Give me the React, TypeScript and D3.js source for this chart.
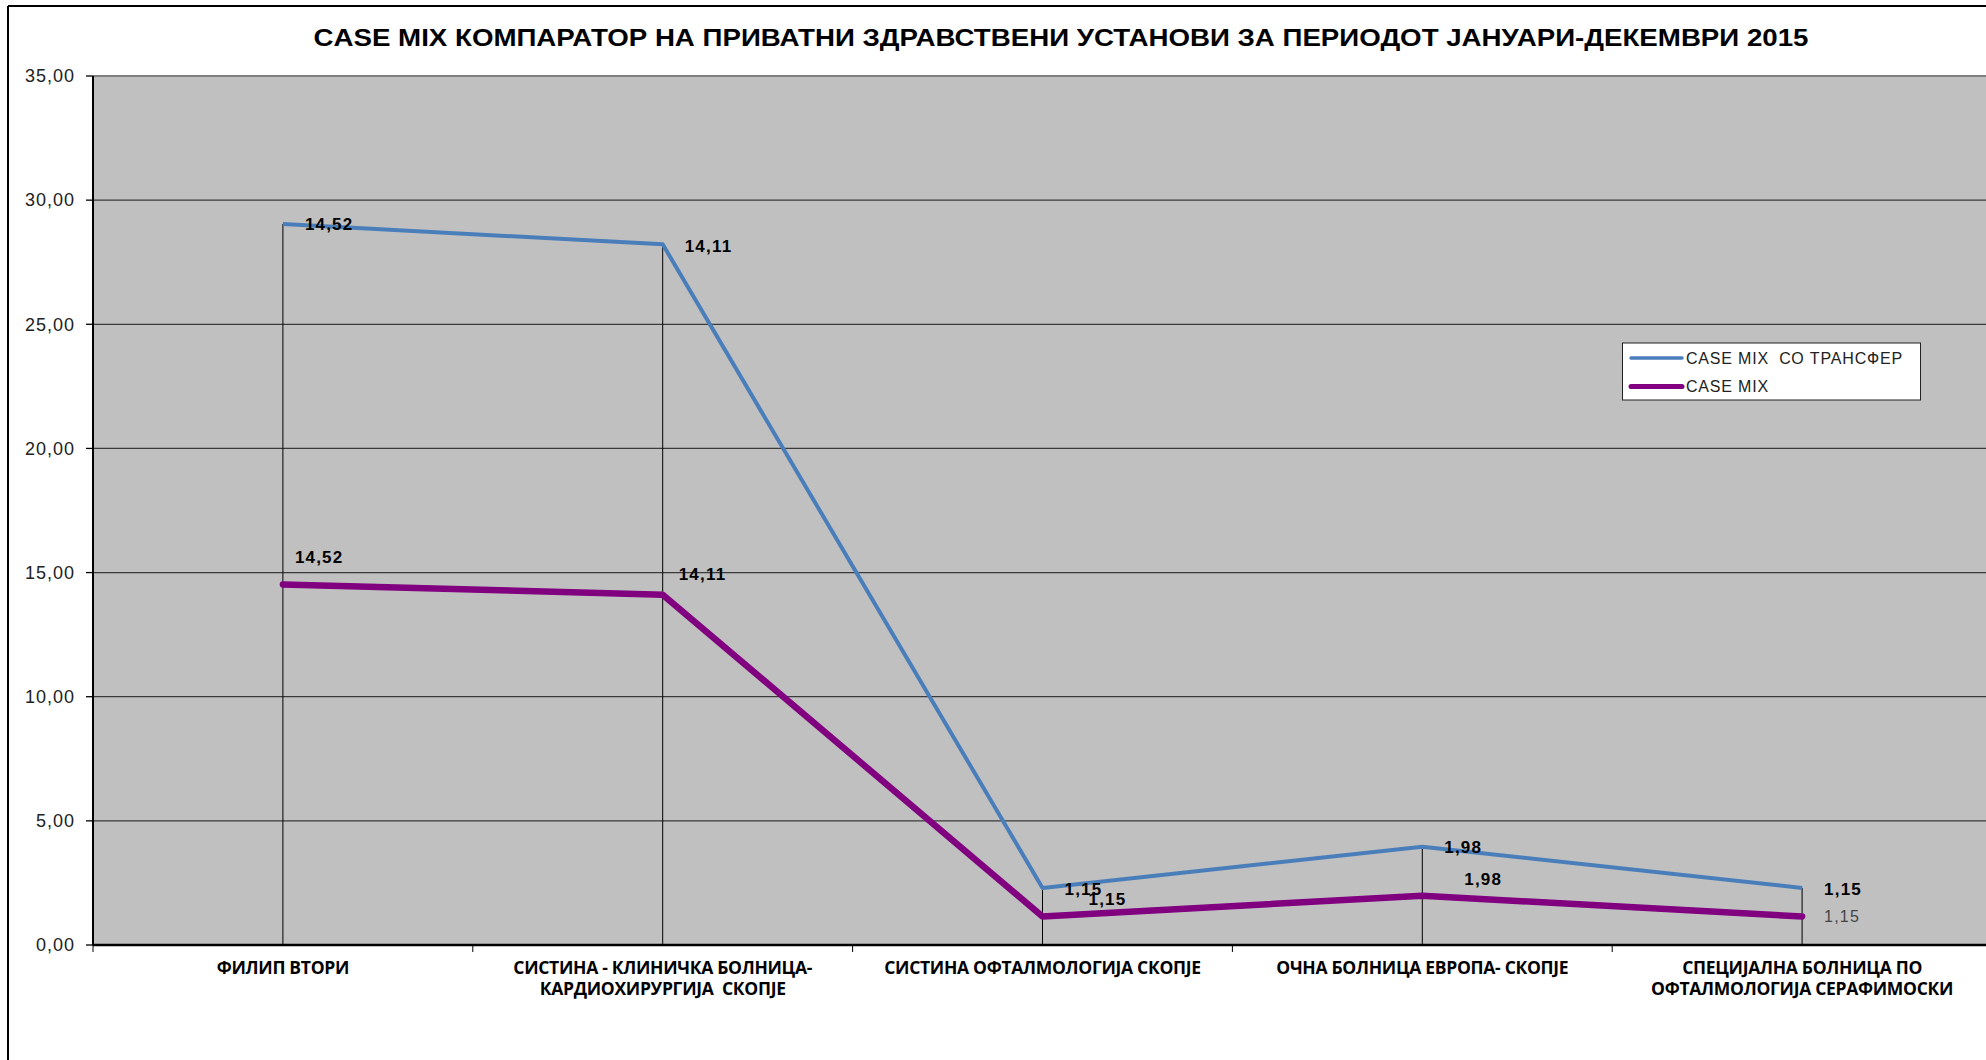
import * as d3 from 'd3';

const TITLE = 'CASE MIX КОМПАРАТОР НА ПРИВАТНИ ЗДРАВСТВЕНИ УСТАНОВИ ЗА ПЕРИОДОТ ЈАНУАРИ-ДЕКЕМВРИ 2015';

const categories = [
  ['ФИЛИП ВТОРИ'],
  ['СИСТИНА - КЛИНИЧКА БОЛНИЦА-', 'КАРДИОХИРУРГИЈА  СКОПЈЕ'],
  ['СИСТИНА ОФТАЛМОЛОГИЈА СКОПЈЕ'],
  ['ОЧНА БОЛНИЦА ЕВРОПА- СКОПЈЕ'],
  ['СПЕЦИЈАЛНА БОЛНИЦА ПО', 'ОФТАЛМОЛОГИЈА СЕРАФИМОСКИ'],
];

const seriesNames = ['CASE MIX  СО ТРАНСФЕР', 'CASE MIX'];

// plotted values (as drawn on the chart)
const transferValues = [29.04, 28.22, 2.3, 3.96, 2.3];
const caseMixValues = [14.52, 14.11, 1.15, 1.98, 1.15];

// data label texts shown next to points
const transferLabels = ['14,52', '14,11', '1,15', '1,98', '1,15'];
const caseMixLabels = ['14,52', '14,11', '1,15', '1,98', '1,15'];

const yTicks = [0, 5, 10, 15, 20, 25, 30, 35];

const BLUE = '#4A7EBB';
const PURPLE = '#800080';

// hand-placed label offsets (as in the original workbook)
const transferOffsets = [[22, 0], [22, 2], [22, 1], [22, 0], [22, 1]];
const caseMixOffsets = [[12, -27], [16, -21], [46, -17], [42, -17], [22, 0]];

export default function App() {
  const W = 1986;
  const H = 1060;
  const left = 93;
  const right = 1992;
  const top = 76;
  const bottom = 945;

  const x = d3.scaleBand<number>().domain(categories.map((_, i) => i)).range([left, right]);
  const cx = (i: number) => (x(i) ?? 0) + x.bandwidth() / 2;
  const y = d3.scaleLinear().domain([0, 35]).range([bottom, top]);
  const fmt = (v: number) => v.toFixed(2).replace('.', ',');

  const line = d3.line<number>().x((_, i) => cx(i)).y((d) => y(d));

  return (
    <svg width={W} height={H} style={{ position: 'absolute', left: 0, top: 0, background: '#fff' }}>
      {/* outer frame */}
      <line x1={8} y1={6} x2={W} y2={6} stroke="#000" strokeWidth={2} />
      <line x1={8} y1={6} x2={8} y2={H} stroke="#000" strokeWidth={2} />

      <text x={1061} y={46} textAnchor="middle" fontFamily="'Liberation Sans', Arial, sans-serif"
        fontWeight="bold" fontSize={24} fill="#000" textLength={1495} lengthAdjust="spacingAndGlyphs">
        {TITLE}
      </text>

      {/* plot area */}
      <rect x={left} y={top} width={right - left} height={bottom - top} fill="#C0C0C0" />
      {yTicks.filter((t) => t > 0 && t < 35).map((t) => (
        <line key={t} x1={left} x2={right} y1={y(t)} y2={y(t)} stroke="#3a3a3a" strokeWidth={1.3} />
      ))}
      <line x1={left} x2={right} y1={y(35)} y2={y(35)} stroke="#808080" strokeWidth={2} />

      {/* y axis */}
      <line x1={left} x2={left} y1={top} y2={bottom} stroke="#000" strokeWidth={2} />
      {yTicks.map((t) => (
        <g key={t}>
          <line x1={left - 7} x2={left} y1={y(t)} y2={y(t)} stroke="#000" strokeWidth={1.3} />
          <text x={75} y={y(t)} dy="0.35em" textAnchor="end" fontFamily="'Liberation Sans', Arial, sans-serif"
            fontSize={18} letterSpacing={1} fill="#222">{fmt(t)}</text>
        </g>
      ))}

      {/* drop lines */}
      {transferValues.map((v, i) => (
        <line key={i} x1={cx(i)} x2={cx(i)} y1={y(v)} y2={bottom} stroke="#000" strokeWidth={1} />
      ))}

      {/* x axis */}
      <line x1={left} x2={right} y1={bottom} y2={bottom} stroke="#000" strokeWidth={2.5} />
      {categories.map((_, i) => (
        <line key={i} x1={x(i) ?? 0} x2={x(i) ?? 0} y1={bottom} y2={bottom + 7} stroke="#000" strokeWidth={1} />
      ))}
      {categories.map((lines, i) => (
        <text key={i} x={cx(i)} y={974} textAnchor="middle" fontFamily="'Open Sans', sans-serif"
          fontWeight="bold" fontSize={17.5} fill="#000" letterSpacing={-0.3}>
          {lines.map((l, j) => (
            <tspan key={j} x={cx(i)} dy={j === 0 ? 0 : 20.5} style={{ whiteSpace: 'pre' }}>{l}</tspan>
          ))}
        </text>
      ))}

      {/* series */}
      <path d={line(transferValues) ?? ''} fill="none" stroke={BLUE} strokeWidth={4} strokeLinejoin="round" />
      <path d={line(caseMixValues) ?? ''} fill="none" stroke={PURPLE} strokeWidth={6.5} strokeLinejoin="round" strokeLinecap="round" />

      {transferValues.map((v, i) => (
        <text key={i} x={cx(i) + transferOffsets[i][0]} y={y(v) + transferOffsets[i][1]} dy="0.35em"
          fontFamily="'Liberation Sans', Arial, sans-serif" fontWeight="bold" fontSize={17} letterSpacing={1.2} fill="#000">
          {transferLabels[i]}
        </text>
      ))}
      {caseMixValues.map((v, i) => {
        const plain = i === caseMixValues.length - 1;
        return (
          <text key={i} x={cx(i) + caseMixOffsets[i][0]} y={y(v) + caseMixOffsets[i][1]} dy="0.35em"
            fontFamily="'Liberation Sans', Arial, sans-serif" fontWeight={plain ? 'normal' : 'bold'}
            fontSize={plain ? 16 : 17} letterSpacing={1.2} fill={plain ? '#444' : '#000'}>
            {caseMixLabels[i]}
          </text>
        );
      })}

      {/* legend */}
      <rect x={1622.5} y={343} width={298} height={57} fill="#fff" stroke="#222" strokeWidth={1} />
      {seriesNames.map((name, i) => (
        <g key={name}>
          <line x1={1631} x2={1682} y1={358 + i * 28.5} y2={358 + i * 28.5} stroke={i === 0 ? BLUE : PURPLE}
            strokeWidth={i === 0 ? 3.5 : 5} strokeLinecap="round" />
          <text x={1686} y={358 + i * 28.5} dy="0.35em" fontFamily="'Liberation Sans', Arial, sans-serif" fontSize={16}
            letterSpacing={0.8} fill="#222" style={{ whiteSpace: 'pre' }}>{name}</text>
        </g>
      ))}
    </svg>
  );
}
